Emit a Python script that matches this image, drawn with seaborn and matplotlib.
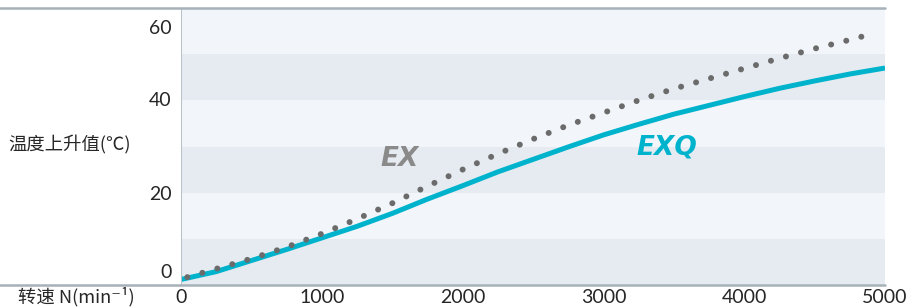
import matplotlib
matplotlib.use("Agg")
import matplotlib.pyplot as plt
from matplotlib.lines import Line2D
from matplotlib.transforms import ScaledTranslation
import seaborn as sns
import pandas as pd

# ---- data ----
exq_rpm = [0, 250, 500, 750, 1000, 1250, 1500, 1750, 2000, 2250, 2500,
           2750, 3000, 3250, 3500, 3750, 4000, 4250, 4500, 4750, 5000]
exq_temp = [1.2, 2.9, 5.3, 7.7, 10.2, 12.7, 15.5, 18.6, 21.5, 24.5, 27.2,
            29.9, 32.5, 34.8, 37.0, 38.9, 40.8, 42.6, 44.2, 45.7, 47.0]

ex_rpm = [45, 250, 500, 750, 1000, 1250, 1500, 1750, 2000, 2250, 2500,
          2750, 3000, 3250, 3500, 3750, 4000, 4250, 4500, 4750, 4908]
ex_temp = [1.7, 3.5, 5.7, 8.2, 11.1, 14.3, 17.7, 21.4, 25.0, 28.4, 31.6,
           34.6, 37.3, 40.0, 42.5, 44.7, 46.9, 49.1, 51.2, 53.1, 54.4]

x_ticks = [0, 1000, 2000, 3000, 4000, 5000]
y_ticks = [0, 20, 40, 60]
y_label = "温度上升值(℃)"
x_label = "转速 N(min⁻¹)"
series_names = ["EX", "EXQ"]

exq_df = pd.DataFrame({"rpm": exq_rpm, "temp": exq_temp})
ex_df = pd.DataFrame({"rpm": ex_rpm, "temp": ex_temp})

# ---- style ----
sns.set_theme(style="white")
plt.rcParams["font.family"] = ["Lato", "Noto Sans CJK SC", "DejaVu Sans"]

CYAN = "#00b3cc"
DOT = "#6b6b6b"
EXGRAY = "#8a8a8a"
LIGHT = "#f2f5f9"
DARK = "#e5ebf1"
FRAME = "#a6b1b8"
TEXT = "#262626"

fig = plt.figure(figsize=(9.12, 3.07), dpi=100)
ax = fig.add_axes([181 / 912, 1 - 285 / 307, (885 - 181) / 912, (285 - 8) / 307])
ax.set_facecolor(LIGHT)
for lo in (0, 20, 40):
    ax.axhspan(lo, lo + 10, color=DARK, lw=0, zorder=0)

sns.lineplot(data=exq_df, x="rpm", y="temp", ax=ax, color=CYAN, lw=3.6,
             solid_capstyle="butt", zorder=3)
sns.lineplot(data=ex_df, x="rpm", y="temp", ax=ax, color=DOT, lw=4.3,
             linestyle=(0, (0.01, 2.6)), dash_capstyle="round", zorder=4)

ax.set_xlim(0, 5000)
ax.set_ylim(0, 60)
ax.set_xticks(x_ticks)
ax.set_yticks(y_ticks)
ax.set_xticklabels([str(v) for v in x_ticks])
ax.set_yticklabels([str(v) for v in y_ticks])
ax.set_xlabel("")
ax.set_ylabel("")
ax.tick_params(axis="both", length=0, labelsize=14, colors=TEXT)
ax.tick_params(axis="x", pad=3)
ax.tick_params(axis="y", pad=7)
for s in ax.spines.values():
    s.set_visible(False)

# nudge end labels inward like the reference
offsets = {0: 0.14, 20: 0.0, 40: 0.01, 60: -0.19}
for lab, v in zip(ax.get_yticklabels(), y_ticks):
    lab.set_transform(lab.get_transform() + ScaledTranslation(0, offsets[v], fig.dpi_scale_trans))

# series labels
ax.text(1555, 27.2, series_names[0], color=EXGRAY, fontsize=19, fontweight="bold",
        fontstyle="italic", ha="center", va="center", family=["DejaVu Sans"])
ax.text(3452, 29.8, series_names[1], color=CYAN, fontsize=19, fontweight="bold",
        fontstyle="italic", ha="center", va="center", family=["DejaVu Sans"])

# frame lines
fig.add_artist(Line2D([0, 885 / 912], [1 - 8 / 307] * 2, color=FRAME, lw=1.8))
fig.add_artist(Line2D([0, 885 / 912], [1 - 284.5 / 307] * 2, color=FRAME, lw=1.8))
ax.axvline(0, color="#b7c2c9", lw=1.5, zorder=5)

# axis titles
fig.text(8 / 912, 1 - 145 / 307, y_label, fontsize=13.2, color=TEXT, ha="left", va="center",
         family=["Noto Sans CJK SC", "DejaVu Sans"])
fig.text(18 / 912, 1 - 297 / 307, x_label, fontsize=13.2, color=TEXT, ha="left", va="center",
         family=["Noto Sans CJK SC", "DejaVu Sans"])

fig.savefig("out.png", dpi=100)
